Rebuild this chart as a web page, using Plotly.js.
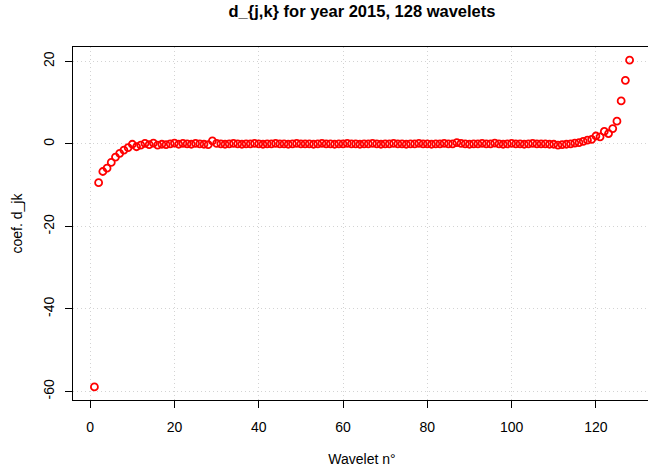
<!DOCTYPE html>
<html><head><meta charset="utf-8">
<script src="https://cdn.plot.ly/plotly-3.0.1.min.js"></script>
<style>html,body{margin:0;padding:0;overflow:hidden;background:#fff}</style>
</head><body><div id="chart"></div>
<script>
const wavelet = Array.from({length:128},(_, i)=>i+1);
const coefStart = [-58.9,-9.4,-6.7,-5.9,-4.5,-3.2,-2.3,-1.5,-0.9,-0.1,
  -0.7,-0.3,0.1,-0.2,0.2,-0.3,-0.1,-0.2,0.0,0.2,
  -0.1,0.1,0.0,-0.1,0.1,0.0,-0.1,-0.2,0.7,0.1];
const coefMiddle = [0.0,-0.1,0.0,0.1,0.0,-0.1,0.0,0.0,0.1,0.0,
  -0.1,0.0,0.0,0.1,0.0,0.0,-0.1,0.0,0.1,0.0,
  0.0,0.0,-0.1,0.0,0.1,0.0,0.0,-0.1,0.0,0.0,
  0.1,0.0,0.0,-0.1,0.0,0.0,0.1,0.0,-0.1,0.0,
  0.0,0.1,0.0,0.0,-0.1,0.0,0.0,0.1,0.0,0.0,
  -0.1,0.0,0.0,0.1,0.0,0.0,0.3,0.1,0.0,-0.1,
  0.0,0.0,0.1,0.0,0.0,0.2,0.0,-0.1,0.0,0.1,
  0.0,0.0,-0.1,0.0,0.1,0.0,0.0,0.0,-0.1];
const coefEnd = [-0.1,-0.3,-0.2,-0.1,0.0,0.2,0.3,0.6,0.9,1.1,
  1.9,1.7,3.0,2.5,3.7,5.5,10.4,15.4,20.3];
const coef = coefStart.concat(coefMiddle, coefEnd);
const xTicks = [0,20,40,60,80,100,120];
const yTicks = [-60,-40,-20,0,20];

const xr = [1 - 0.04*127, 128 + 0.04*127];
const ymin = Math.min(...coef), ymax = Math.max(...coef);
const yr = [ymin - 0.04*(ymax-ymin), ymax + 0.04*(ymax-ymin)];

const font = {family:'Liberation Sans, Arial, sans-serif', size:14, color:'#000'};
const trace = {
  x: wavelet, y: coef, type:'scatter', mode:'markers',
  marker:{symbol:'circle-open', size:7, color:'#ff0000', line:{width:1.8, color:'#ff0000'}},
  hoverinfo:'x+y'
};
const axisCommon = {
  showline:true, mirror:true, linecolor:'#000', linewidth:1,
  ticks:'outside', ticklen:7, tickcolor:'#000', tickwidth:1,
  showgrid:true, gridcolor:'#d3d3d3', griddash:'1px,3px', gridwidth:1,
  zeroline:false, tickfont:font
};
const layout = {
  width:652, height:467,
  margin:{l:73, r:1, t:47, b:67},
  paper_bgcolor:'#fff', plot_bgcolor:'#fff',
  showlegend:false,
  title:{text:'<b>d_{j,k} for year 2015, 128 wavelets</b>', font:{family:font.family, size:16.5, color:'#000'},
         x:0.5, xref:'paper', y:0.975, yref:'container', yanchor:'middle'},
  xaxis: Object.assign({}, axisCommon, {range:xr, tickvals:xTicks, ticktext:xTicks.map(String),
    ticklabelstandoff:7,
    title:{text:'Wavelet n°', font:font, standoff:29}}),
  yaxis: Object.assign({}, axisCommon, {range:yr, tickvals:yTicks, ticktext:yTicks.map(String), tickangle:-90,
    ticklabelstandoff:5,
    title:{text:'coef. d_jk', font:font, standoff:15}})
};
Plotly.newPlot('chart',[trace],layout,{displayModeBar:false, staticPlot:true});
</script></body></html>
